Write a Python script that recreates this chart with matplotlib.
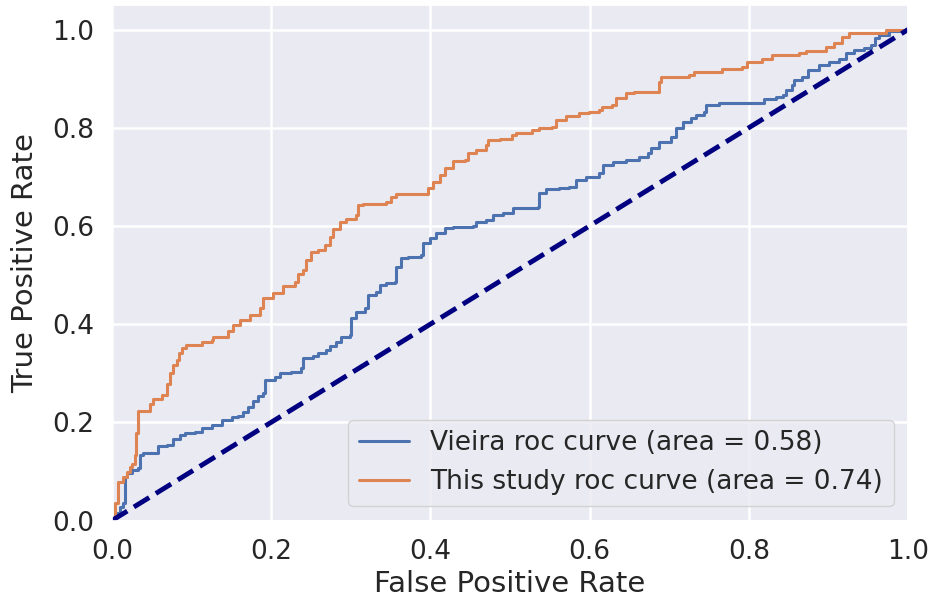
import matplotlib
matplotlib.use("Agg")
import matplotlib.pyplot as plt
import seaborn as sns

sns.set_theme(style="darkgrid")
plt.rcParams['font.family'] = ['DejaVu Sans']

# Vieira ROC curve (area = 0.58)
vieira_fpr = [0.0, 0.0038, 0.010, 0.0142, 0.0163, 0.0184, 0.0247, 0.033, 0.0351, 0.0393,
              0.0561, 0.0581, 0.0686, 0.0769, 0.0853, 0.0916, 0.1041, 0.1125, 0.1251, 0.1376,
              0.1502, 0.1585, 0.1647, 0.171, 0.1773, 0.1836, 0.1898, 0.192, 0.2045, 0.2108,
              0.2255, 0.238, 0.240, 0.2526, 0.2588, 0.2694, 0.2735, 0.2819, 0.2882, 0.2986,
              0.3008, 0.307, 0.3174, 0.3216, 0.3321, 0.3363, 0.3447, 0.3551, 0.3572, 0.3635,
              0.3718, 0.3886, 0.3906, 0.399, 0.4074, 0.4178, 0.4282, 0.4533, 0.4576, 0.4701,
              0.4784, 0.491, 0.5035, 0.5349, 0.537, 0.5454, 0.5621, 0.5747, 0.583, 0.5956,
              0.6123, 0.6164, 0.629, 0.6458, 0.6625, 0.6729, 0.6772, 0.6876, 0.7023, 0.7085,
              0.7169, 0.7273, 0.7336, 0.744, 0.7462, 0.7629, 0.8172, 0.8193, 0.834, 0.8423,
              0.8466, 0.8548, 0.857, 0.8674, 0.8737, 0.8883, 0.9009, 0.9134, 0.9218, 0.9322,
              0.9448, 0.9532, 0.9586, 0.9636, 0.9762, 1.0]
vieira_tpr = [0.0, 0.016, 0.028, 0.035, 0.089, 0.096, 0.103, 0.106, 0.133, 0.137,
              0.137, 0.152, 0.154, 0.167, 0.174, 0.179, 0.181, 0.189, 0.195, 0.205,
              0.210, 0.213, 0.220, 0.232, 0.244, 0.254, 0.259, 0.286, 0.293, 0.300,
              0.303, 0.310, 0.330, 0.335, 0.341, 0.347, 0.356, 0.364, 0.374, 0.378,
              0.412, 0.425, 0.432, 0.459, 0.466, 0.480, 0.484, 0.486, 0.517, 0.534,
              0.537, 0.541, 0.565, 0.575, 0.585, 0.595, 0.598, 0.600, 0.607, 0.612,
              0.622, 0.627, 0.636, 0.638, 0.668, 0.675, 0.678, 0.680, 0.693, 0.700,
              0.707, 0.724, 0.731, 0.734, 0.741, 0.748, 0.758, 0.771, 0.782, 0.799,
              0.812, 0.819, 0.826, 0.833, 0.846, 0.850, 0.850, 0.858, 0.863, 0.867,
              0.877, 0.887, 0.897, 0.904, 0.918, 0.928, 0.934, 0.941, 0.952, 0.958,
              0.962, 0.968, 0.982, 0.989, 0.996, 1.0]

# This study ROC curve (area = 0.74)
study_fpr = [0.0, 0.0038, 0.0038, 0.0079, 0.0079, 0.0122, 0.0142, 0.0184, 0.0226, 0.0247,
             0.0289, 0.0297, 0.033, 0.033, 0.0455, 0.0477, 0.0518, 0.0624, 0.0686, 0.0686,
             0.0728, 0.0769, 0.0812, 0.0841, 0.0882, 0.0925, 0.1104, 0.1125, 0.1251, 0.1271,
             0.1439, 0.1459, 0.152, 0.1606, 0.1731, 0.1857, 0.1898, 0.2024, 0.2149, 0.2296,
             0.2338, 0.240, 0.2443, 0.2506, 0.2588, 0.2673, 0.2735, 0.2777, 0.2861, 0.2945,
             0.307, 0.309, 0.3153, 0.3447, 0.3509, 0.3572, 0.3906, 0.3969, 0.4031, 0.4115,
             0.4178, 0.4282, 0.4429, 0.4467, 0.4576, 0.4701, 0.4718, 0.4868, 0.5031, 0.5078,
             0.5282, 0.537, 0.5533, 0.558, 0.5705, 0.5872, 0.5997, 0.6123, 0.616, 0.6286,
             0.6333, 0.6458, 0.6562, 0.6813, 0.6876, 0.6897, 0.7252, 0.7315, 0.7541, 0.7666,
             0.7917, 0.798, 0.8168, 0.8294, 0.8632, 0.8716, 0.8967, 0.9072, 0.9172, 0.926,
             0.9636, 0.972, 1.0]
study_tpr = [0.0, 0.0, 0.035, 0.035, 0.079, 0.079, 0.089, 0.099, 0.110, 0.116,
             0.133, 0.178, 0.178, 0.224, 0.224, 0.237, 0.247, 0.256, 0.256, 0.279,
             0.300, 0.317, 0.327, 0.341, 0.351, 0.357, 0.357, 0.364, 0.368, 0.374,
             0.374, 0.385, 0.398, 0.408, 0.419, 0.432, 0.453, 0.463, 0.478, 0.486,
             0.503, 0.510, 0.531, 0.547, 0.551, 0.561, 0.578, 0.593, 0.609, 0.615,
             0.622, 0.643, 0.645, 0.649, 0.659, 0.665, 0.666, 0.677, 0.690, 0.704,
             0.718, 0.733, 0.734, 0.748, 0.755, 0.765, 0.775, 0.777, 0.785, 0.789,
             0.795, 0.799, 0.802, 0.816, 0.824, 0.830, 0.833, 0.836, 0.843, 0.846,
             0.860, 0.871, 0.873, 0.873, 0.894, 0.904, 0.907, 0.914, 0.914, 0.919,
             0.924, 0.934, 0.940, 0.948, 0.952, 0.957, 0.964, 0.972, 0.985, 0.993,
             0.993, 1.0, 1.0]

chance = [0.0, 1.0]
series_labels = ['Vieira roc curve (area = 0.58)', 'This study roc curve (area = 0.74)']
x_ticks = [0.0, 0.2, 0.4, 0.6, 0.8, 1.0]
y_ticks = [0.0, 0.2, 0.4, 0.6, 0.8, 1.0]

fig = plt.figure(figsize=(9.3, 6.08), dpi=100)
ax = fig.add_axes([0.1204, 0.1439, 0.856, 0.8479])

blue = '#4C72B0'
orange = '#DD8452'

ax.plot(vieira_fpr, vieira_tpr, color=blue, lw=2.2, label=series_labels[0],
        drawstyle='steps-post')
ax.plot(study_fpr, study_tpr, color=orange, lw=2.2, label=series_labels[1],
        drawstyle='steps-post')
ax.plot(chance, chance, color='navy', lw=3.5, linestyle='--')

ax.set_xlim(0.0, 1.0)
ax.set_ylim(0.0, 1.05)
ax.set_xticks(x_ticks)
ax.set_yticks(y_ticks)
ax.set_xticklabels([f'{t:.1f}' for t in x_ticks])
ax.set_yticklabels([f'{t:.1f}' for t in y_ticks])
ax.tick_params(labelsize=19, colors='#262626', pad=7)
for g in ax.get_xgridlines() + ax.get_ygridlines():
    g.set_linewidth(1.8)
ax.set_xlabel('False Positive Rate', fontsize=21, color='#262626')
ax.set_ylabel('True Positive Rate', fontsize=21, color='#262626', labelpad=9)

leg = ax.legend(loc='lower right', fontsize=19, handlelength=1.9,
                borderaxespad=0.55)
for l in leg.get_lines():
    l.set_linewidth(2.2)

fig.savefig('out.png', dpi=100)
